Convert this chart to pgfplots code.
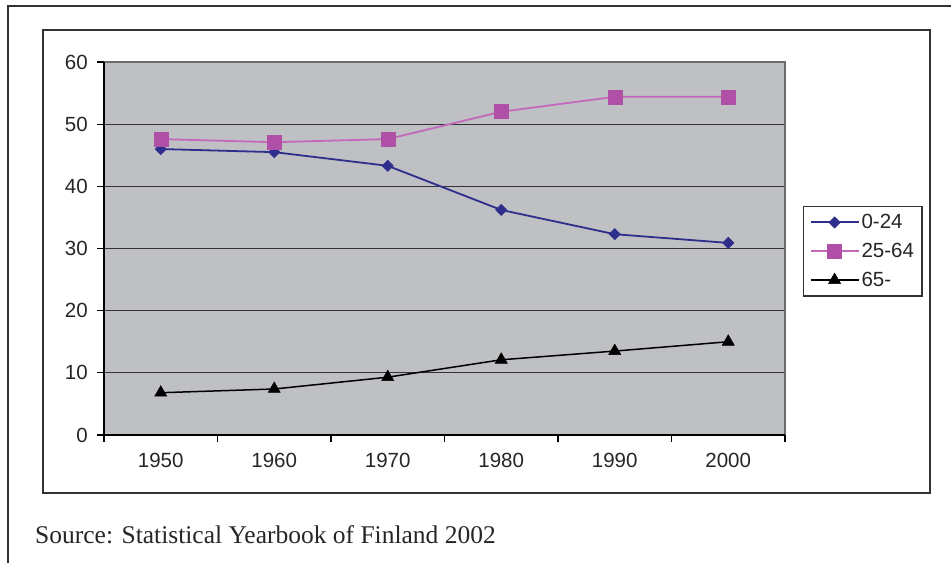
\documentclass[border=0pt]{standalone}
\usepackage{pgfplots}
\pgfplotsset{compat=1.18}
\usepackage{fontspec}
\setmainfont{Liberation Sans}
\newfontfamily\timesfont{Liberation Serif}

\definecolor{plotbg}{HTML}{BEC0C3}
\definecolor{navy}{HTML}{2E2E8C}
\definecolor{mag}{HTML}{B04FA6}
\definecolor{magline}{HTML}{C468BC}
\definecolor{frame}{HTML}{333333}

\begin{document}
\begin{tikzpicture}
\useasboundingbox (0,0) rectangle (951pt,563pt);
% page frame and chart frame
\draw[line width=1.6pt, frame] (8pt,0pt) -- (8pt,557pt) -- (951pt,557pt);
\draw[line width=1.6pt, frame] (43pt,70pt) rectangle (930pt,533pt);

\begin{axis}[
    at={(104pt,128pt)}, anchor=south west,
    scale only axis,
    width=681pt, height=373pt,
    xmin=-0.5, xmax=5.5,
    ymin=0, ymax=60,
    xtick={0,...,5},
    xticklabels={1950,1960,1970,1980,1990,2000},
    minor xtick={-0.5,0.5,1.5,2.5,3.5,4.5,5.5},
    ytick={0,10,...,60},
    xtick pos=bottom, ytick pos=left,
    major x tick style={draw=none},
    tick align=outside,
    major tick length=7pt, minor tick length=7pt,
    every tick/.style={line width=1.2pt, black},
    ymajorgrids,
    major grid style={line width=1.2pt, frame},
    axis line style={draw=none},
    axis background/.style={fill=plotbg},
    tick label style={font=\fontsize{20.5}{23}\selectfont, text=black!85},
    /pgf/number format/assume math mode=true,
    yticklabel style={inner sep=0pt, xshift=-9pt},
    xticklabel style={inner sep=0pt, yshift=-11pt},
    legend style={
        at={(1.0264,0.614)}, anchor=north west,
        draw=frame, line width=1.2pt,
        font=\fontsize{20.5}{23}\selectfont,
        text=black!85,
        inner xsep=6pt, inner ysep=6pt,
        row sep=9pt,
        cells={anchor=west},
    },
    legend image code/.code={
        \draw[#1, line width=2pt] (0pt,0pt) -- (48pt,0pt);
        \draw[#1, only marks] plot coordinates {(24pt,0pt)};
    },
    clip=false,
]
\addplot[navy, line width=1.8pt, mark=square*, mark size=4pt,
    mark options={solid, rotate=45, fill=navy, draw=navy, line width=0.5pt}]
    coordinates {(0,46.0) (1,45.5) (2,43.3) (3,36.2) (4,32.3) (5,30.9)};
\addlegendentry{0-24}
\addplot[magline, line width=1.8pt, mark=square*, mark size=7pt,
    mark options={solid, fill=mag, draw=mag, line width=0.5pt}]
    coordinates {(0,47.6) (1,47.1) (2,47.6) (3,52.0) (4,54.4) (5,54.4)};
\addlegendentry{25-64}
\addplot[black, line width=1.5pt, mark=triangle*, mark size=7pt,
    mark options={solid, fill=black, line width=0.5pt}]
    coordinates {(0,6.8) (1,7.4) (2,9.3) (3,12.1) (4,13.5) (5,15.0)};
\addlegendentry{65-}
% plot area border
\draw[line width=2pt, gray!85!black] (rel axis cs:0,1) -- (rel axis cs:1,1) -- (rel axis cs:1,0);
\draw[line width=1.4pt, black] (rel axis cs:0,1) -- (rel axis cs:0,0) -- (rel axis cs:1,0);
\end{axis}

\node[anchor=base west, inner sep=0pt, font=\timesfont\fontsize{25.5}{30}\selectfont, text=black!85]
    at (35pt,20pt) {Source: Statistical Yearbook of Finland 2002};
\end{tikzpicture}
\end{document}
